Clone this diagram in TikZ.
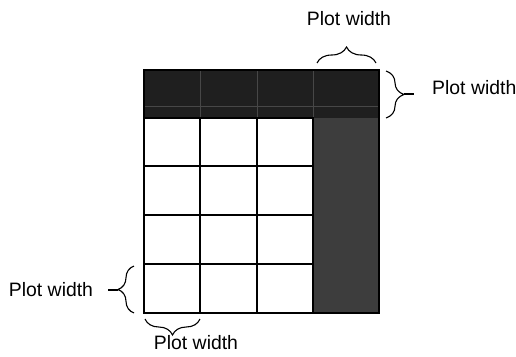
\documentclass[tikz,border=0pt]{standalone}
\usepackage{fontspec}
\setmainfont{Liberation Sans}
\usetikzlibrary{decorations.pathreplacing}
\begin{document}
\begin{tikzpicture}[x=1pt,y=-1pt,
  gridline/.style={line width=1.3pt},
  bracestyle/.style={decorate,decoration={brace,amplitude=#1},line width=1.1pt},
  lbl/.style={font=\fontsize{19.4}{22}\selectfont, inner sep=0pt}]
\useasboundingbox (0,0) rectangle (516,356);
% shaded plot-width border
\fill[black!88] (144,70) rectangle (379,118);
\fill[black!76] (313,118) rectangle (379,313);
\foreach \x in {200,257,313} \draw[black!72,line width=0.5pt] (\x,70) -- (\x,118);
\draw[black!72,line width=0.5pt] (144,106) -- (379,106);
% grid of white cells
\foreach \y in {166,215,264} \draw[gridline] (144,\y) -- (313,\y);
\foreach \x in {200,257} \draw[gridline] (\x,118) -- (\x,313);
\draw[gridline] (144,118) -- (313,118) -- (313,313);
\draw[line width=1.6pt] (144,70) rectangle (379,313);
% braces
\coordinate (t1) at (317,63); \coordinate (t2) at (376,63);
\coordinate (r1) at (386,71); \coordinate (r2) at (386,118);
\coordinate (rt) at (404,94); \coordinate (re) at (414,94);
\coordinate (l1) at (134,313); \coordinate (l2) at (134,266);
\coordinate (lt) at (118,290); \coordinate (le) at (108,290);
\coordinate (b1) at (200,319); \coordinate (b2) at (145,319);
\draw[bracestyle=16] (t1) -- (t2);
\draw[bracestyle=18] (r1) -- (r2);
\draw[line width=1.1pt] (rt) -- (re);
\draw[bracestyle=16] (l1) -- (l2);
\draw[line width=1.1pt] (lt) -- (le);
\draw[bracestyle=16] (b1) -- (b2);
% labels
\node[lbl] (top) at (349,19) {Plot width};
\node[lbl,anchor=west] (right) at (432,88) {Plot width};
\node[lbl] (left) at (51,290) {Plot width};
\node[lbl] (bottom) at (196,343) {Plot width};
\end{tikzpicture}
\end{document}
